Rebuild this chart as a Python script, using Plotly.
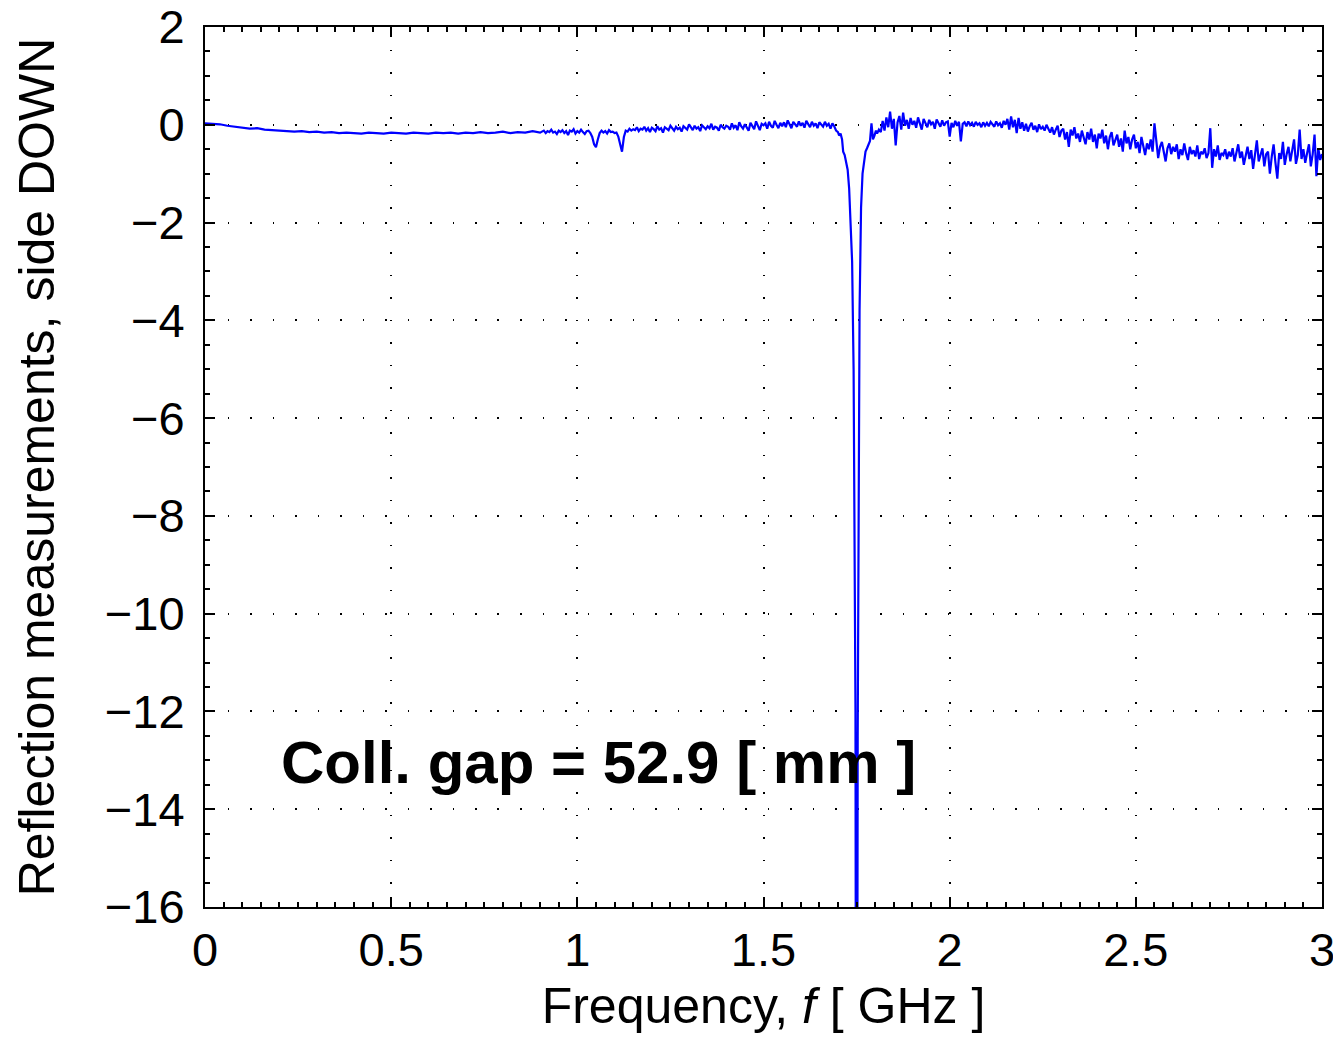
import numpy as np
import plotly.graph_objects as go

# ---- data (reflection, dB-like units) ----
# Segment A: 0.00 .. 0.90 GHz, step 0.02
segA_start, segA_step = 0.00, 0.02
segA_vals = [0.03, 0.02, 0.01, -0.02, -0.04, -0.06, -0.08, -0.07, -0.10, -0.11,
             -0.12, -0.12, -0.14, -0.13, -0.15, -0.14, -0.16, -0.15, -0.17, -0.16,
             -0.17, -0.18, -0.16, -0.17, -0.18, -0.16, -0.17, -0.18, -0.16, -0.17,
             -0.18, -0.16, -0.17, -0.16, -0.18, -0.16, -0.17, -0.15, -0.17, -0.16,
             -0.14, -0.17, -0.15, -0.16, -0.13, -0.16]

# Segment B: 0.905 .. 1.700 GHz, step 0.005
segB_start, segB_step = 0.905, 0.005
segB_vals = [-0.14, -0.12, -0.17, -0.13, -0.15, -0.10, -0.16, -0.14, -0.19, -0.12,
             -0.15, -0.11, -0.17, -0.13, -0.21, -0.12, -0.14, -0.09, -0.18, -0.13,
             -0.16, -0.10, -0.15, -0.19, -0.13, -0.12, -0.17, -0.25, -0.40, -0.46,
             -0.30, -0.17, -0.12, -0.16, -0.13, -0.18, -0.11, -0.15, -0.14, -0.17,
             -0.16, -0.24, -0.40, -0.55, -0.25, -0.12, -0.14, -0.08, -0.12, -0.09,
             -0.11, -0.05, -0.13, -0.08, -0.10, -0.04, -0.12, -0.07, -0.15, -0.06,
             -0.09, -0.13, -0.03, -0.10, -0.07, -0.16, -0.05, -0.08, -0.11, -0.02,
             -0.08, -0.12, -0.04, -0.09, -0.06, -0.14, -0.03, -0.07, -0.10, 0.01,
             -0.06, -0.11, -0.02, -0.08, -0.05, -0.13, -0.01, -0.06, -0.09, -0.03,
             -0.07, 0.02, -0.10, -0.04, -0.06, -0.12, 0.00, -0.05, -0.08, -0.02,
             -0.04, -0.10, 0.03, -0.06, -0.01, -0.11, 0.05, -0.03, -0.08, 0.01,
             -0.05, -0.12, 0.04, -0.02, -0.09, 0.07, -0.04, -0.11, 0.02, -0.01,
             0.03, -0.08, 0.06, -0.02, -0.06, 0.08, 0.00, -0.07, 0.04, -0.03,
             0.05, -0.05, 0.09, -0.01, -0.07, 0.06, 0.01, -0.04, 0.07, -0.02,
             0.04, -0.06, 0.08, 0.00, -0.05, 0.06, -0.02, 0.03, -0.07, 0.05,
             0.01, -0.04, 0.06, -0.02, 0.02, -0.08, 0.03, -0.03, -0.12, -0.15]

# Segment C: resonance dip, explicit frequencies
segC_freq = [1.703, 1.707, 1.711, 1.714, 1.718, 1.722, 1.726, 1.730, 1.734, 1.738,
             1.742, 1.747, 1.750, 1.753, 1.758, 1.762, 1.766, 1.770, 1.774, 1.778,
             1.782, 1.786, 1.790, 1.794, 1.798, 1.802]
segC_vals = [-0.22, -0.18, -0.30, -0.55, -0.62, -0.75, -0.92, -1.30, -1.90, -2.80,
             -5.0, -12.0, -30.0, -12.5, -3.8, -1.70, -1.00, -0.75, -0.55, -0.48,
             -0.38, -0.33, 0.03, -0.30, -0.22, -0.12]

# Segment D: 1.805 .. 3.000 GHz, step 0.005
segD_start, segD_step = 1.805, 0.005
segD_vals = [-0.18, -0.10, -0.15, 0.08, -0.12, 0.15, -0.05, 0.27, -0.08, 0.12,
             -0.42, 0.05, 0.18, -0.10, 0.25, -0.02, 0.10, -0.08, 0.14, 0.00,
             0.08, -0.06, 0.15, 0.02, -0.10, 0.12, 0.04, -0.05, 0.10, 0.01,
             0.06, -0.08, 0.11, 0.03, -0.04, 0.09, -0.02, 0.05, 0.07, -0.24,
             0.04, -0.05, 0.08, -0.02, 0.06, -0.34, 0.02, 0.05, -0.03, 0.07,
             -0.01, 0.04, -0.04, 0.06, 0.00, 0.03, -0.05, 0.05, -0.02, 0.04,
             -0.03, 0.06, 0.01, -0.04, 0.07, -0.01, 0.03, -0.06, 0.08, 0.00,
             0.12, -0.10, 0.17, -0.05, 0.10, -0.17, 0.14, -0.08, 0.05, -0.12,
             0.02, -0.14, -0.03, 0.04, -0.10, -0.02, -0.15, 0.01, -0.09, -0.04,
             -0.12, 0.00, -0.08, -0.16, -0.05, -0.20, -0.10, -0.02, -0.25, -0.12,
             -0.08, -0.30, -0.15, -0.45, -0.10, -0.22, -0.05, -0.28, -0.18, -0.35,
             -0.12, -0.25, -0.40, -0.15, -0.30, -0.08, -0.35, -0.20, -0.48, -0.18,
             -0.28, -0.10, -0.38, -0.22, -0.50, -0.25, -0.15, -0.42, -0.30, -0.20,
             -0.45, -0.28, -0.55, -0.12, -0.38, -0.25, -0.50, -0.30, -0.20, -0.48,
             -0.35, -0.58, -0.25, -0.45, -0.62, -0.38, -0.50, -0.30, -0.55, 0.03,
             -0.40, -0.68, -0.45, -0.35, -0.55, -0.75, -0.48, -0.38, -0.60, -0.45,
             -0.55, -0.40, -0.70, -0.50, -0.62, -0.38, -0.58, -0.72, -0.45, -0.60,
             -0.52, -0.65, -0.42, -0.70, -0.55, -0.60, -0.48, -0.68, -0.58, -0.07,
             -0.88, -0.50, -0.65, -0.42, -0.72, -0.58, -0.62, -0.50, -0.70, -0.55,
             -0.65, -0.48, -0.75, -0.58, -0.40, -0.68, -0.55, -0.82, -0.60, -0.45,
             -0.70, -0.52, -0.90, -0.58, -0.32, -0.75, -0.62, -0.48, -0.85, -0.60,
             -0.55, -1.00, -0.65, -0.40, -0.78, -1.10, -0.58, -0.70, -0.35, -0.82,
             -0.60, -0.45, -0.75, -0.55, -0.30, -0.80, -0.62, -0.10, -0.70, -0.50,
             -0.78, -0.58, -0.40, -0.85, -0.60, -0.20, -1.05, -0.48, -0.72, -0.60]

x_tickvals = [0, 0.5, 1, 1.5, 2, 2.5, 3]
x_ticktext = ["0", "0.5", "1", "1.5", "2", "2.5", "3"]
y_tickvals = [2, 0, -2, -4, -6, -8, -10, -12, -14, -16]
y_ticktext = ["2", "0", "\u22122", "\u22124", "\u22126", "\u22128", "\u221210",
              "\u221212", "\u221214", "\u221216"]

annotation_text = "<b>Coll. gap = 52.9 [ mm ]</b>"
x_title = "Frequency, <i>f</i> [ GHz ]"
y_title = "Reflection measurements, side DOWN"

# ---- build series ----
fA = segA_start + segA_step * np.arange(len(segA_vals))
fB = segB_start + segB_step * np.arange(len(segB_vals))
fD = segD_start + segD_step * np.arange(len(segD_vals))
freq = np.concatenate([fA, fB, np.array(segC_freq), fD])
refl = np.concatenate([segA_vals, segB_vals, segC_vals, segD_vals])

FONT = "Liberation Sans, Arial, Helvetica, sans-serif"

fig = go.Figure()
fig.add_trace(go.Scatter(x=freq, y=refl, mode="lines",
                         line=dict(color="#0000FF", width=2.2),
                         showlegend=False))

axis_common = dict(
    showline=True, linecolor="black", linewidth=2, mirror="allticks",
    ticks="inside", ticklen=10, tickwidth=1.5, tickcolor="black",
    showgrid=True, gridcolor="black", gridwidth=1.5, griddash="1.5px,21px",
    zeroline=False, automargin=False, ticklabeloverflow="allow",
    tickfont=dict(family=FONT, size=47, color="black"),
)

fig.update_xaxes(range=[0, 3], tickvals=x_tickvals, ticktext=x_ticktext,
                 ticklabelstandoff=1,
                 minor=dict(dtick=0.05, ticks="inside", ticklen=5,
                            tickcolor="black", tickwidth=1.5, showgrid=False),
                 title=dict(text=x_title, font=dict(family=FONT, size=50, color="black"),
                            standoff=13),
                 **axis_common)
fig.update_yaxes(range=[-16, 2], tickvals=y_tickvals, ticktext=y_ticktext,
                 ticklabelstandoff=9,
                 minor=dict(dtick=0.5, ticks="inside", ticklen=5,
                            tickcolor="black", tickwidth=1.5, showgrid=False),
                 title=dict(text=y_title, font=dict(family=FONT, size=50, color="black"),
                            standoff=34),
                 **axis_common)

fig.add_annotation(x=0.2, y=-13.05, xref="x", yref="y", text=annotation_text,
                   showarrow=False, xanchor="left", yanchor="middle",
                   font=dict(family=FONT, size=60, color="black"))

fig.update_layout(width=1333, height=1034,
                  margin=dict(l=197, r=19, t=19, b=135),
                  paper_bgcolor="white", plot_bgcolor="white")

fig.write_html("out.html")
